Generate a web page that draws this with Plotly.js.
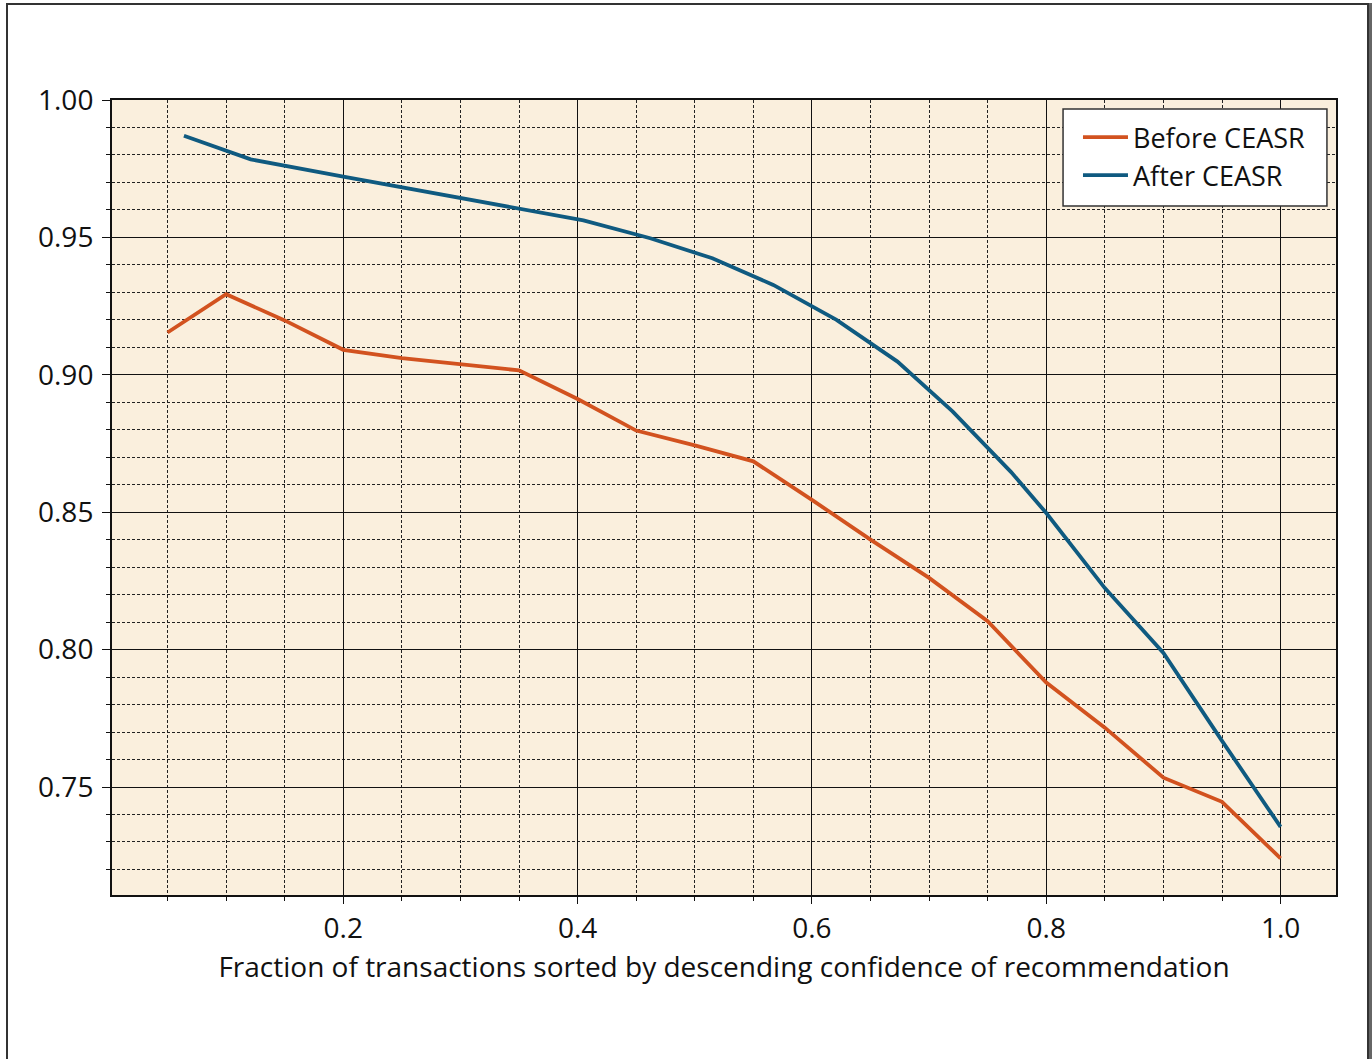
<!DOCTYPE html>
<html>
<head>
<meta charset="utf-8">
<script src="https://cdn.plot.ly/plotly-3.0.1.min.js"></script>
<style>
  html, body { margin: 0; padding: 0; background: #fff; }
  #chart { position: absolute; left: 0; top: 0; width: 1372px; height: 1059px; }
  #frame { position: absolute; left: 6px; top: 3px; width: 1359px; height: 1070px;
           border-left: 2px solid #333; border-top: 2px solid #333; border-right: 2px solid #333;
           box-shadow: 3px 0 0 #666; pointer-events: none; z-index: 10; }
</style>
</head>
<body>
<div id="chart"></div>
<div id="frame"></div>
<script>
// Before CEASR (orange)
const beforeX = [0.05, 0.10, 0.15, 0.20, 0.25, 0.30, 0.35, 0.40, 0.45, 0.50, 0.55, 0.60, 0.65, 0.70, 0.75, 0.80, 0.85, 0.90, 0.95, 1.00];
const beforeY = [0.9154, 0.9293, 0.9198, 0.9091, 0.9061, 0.9040, 0.9016, 0.8912, 0.8797, 0.8743, 0.8685, 0.8545, 0.8400, 0.8261, 0.8103, 0.7880, 0.7716, 0.7534, 0.7446, 0.7240];

// After CEASR (blue)
const afterX = [0.064, 0.121, 0.20, 0.30, 0.405, 0.462, 0.515, 0.567, 0.621, 0.673, 0.720, 0.770, 0.800, 0.850, 0.900, 0.950, 1.000];
const afterY = [0.9870, 0.9784, 0.9721, 0.9643, 0.9562, 0.9497, 0.9424, 0.9327, 0.9200, 0.9048, 0.8867, 0.8646, 0.8497, 0.8224, 0.7988, 0.7668, 0.7355];

const seriesNames = ['Before CEASR', 'After CEASR'];
const xTitle = 'Fraction of transactions sorted by descending confidence of recommendation';

const FONT = 'Open Sans, sans-serif';

const traces = [
  { x: beforeX, y: beforeY, name: seriesNames[0], type: 'scatter', mode: 'lines',
    line: { color: '#D2521F', width: 3.8 } },
  { x: afterX, y: afterY, name: seriesNames[1], type: 'scatter', mode: 'lines',
    line: { color: '#0F5A80', width: 3.8 } }
];

const layout = {
  width: 1372, height: 1059,
  margin: { l: 112, r: 36, t: 100, b: 164, pad: 0 },
  paper_bgcolor: '#ffffff',
  plot_bgcolor: '#FAEFDD',
  font: { family: FONT, size: 27, color: '#111' },
  showlegend: true,
  legend: {
    x: 0.7892, xanchor: 'left', y: 0.9836, yanchor: 'top',
    bgcolor: 'rgba(0,0,0,0)', borderwidth: 0, itemwidth: 45,
    font: { family: FONT, size: 27, color: '#111' }
  },
  shapes: [{
    type: 'rect', xref: 'paper', yref: 'paper', layer: 'above',
    x0: 0.777, x1: 0.9926, y0: 0.8667, y1: 0.9887,
    fillcolor: '#ffffff', line: { color: '#333', width: 1.5 }
  }],
  xaxis: {
    range: [0.0026, 1.0473],
    tick0: 0, dtick: 0.2, tickformat: '.1f',
    ticks: 'outside', ticklen: 7, tickwidth: 1, tickcolor: '#111',
    showgrid: true, gridcolor: '#111', gridwidth: 1,
    showline: true, linewidth: 2, linecolor: '#111', mirror: true,
    zeroline: false,
    tickfont: { family: FONT, size: 28, color: '#111' },
    minor: { tick0: 0, dtick: 0.05, ticks: 'outside', ticklen: 4, tickwidth: 1, tickcolor: '#111',
             showgrid: true, gridcolor: '#222', gridwidth: 1, griddash: '3px,2px' },
    title: { text: xTitle, font: { family: FONT, size: 28, color: '#111' }, standoff: 13 },
    automargin: false
  },
  yaxis: {
    range: [0.7107, 1.0],
    tick0: 0, dtick: 0.05, tickformat: '.2f',
    ticks: 'outside', ticklen: 8, tickwidth: 1, tickcolor: '#111',
    ticklabelstandoff: 3,
    showgrid: true, gridcolor: '#111', gridwidth: 1,
    showline: true, linewidth: 2, linecolor: '#111', mirror: true,
    zeroline: false,
    tickfont: { family: FONT, size: 28, color: '#111' },
    minor: { tick0: 0, dtick: 0.01, ticks: 'outside', ticklen: 4, tickwidth: 1, tickcolor: '#111',
             showgrid: true, gridcolor: '#222', gridwidth: 1, griddash: '3px,2px' },
    automargin: false
  }
};

Plotly.newPlot('chart', traces, layout, { displayModeBar: false, staticPlot: true });
</script>
</body>
</html>
